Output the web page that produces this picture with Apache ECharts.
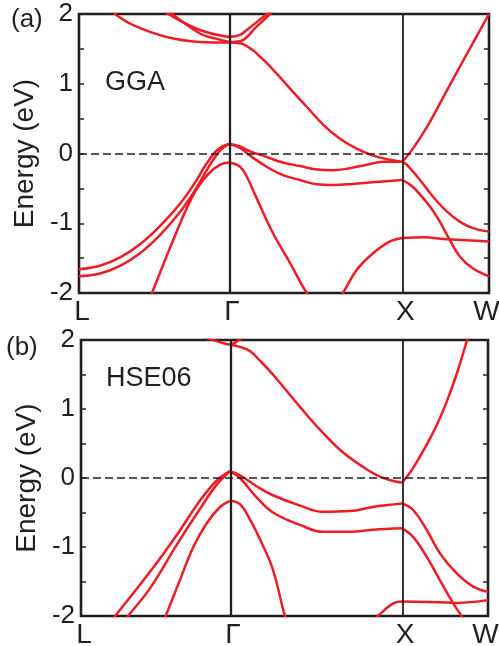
<!DOCTYPE html>
<html><head><meta charset="utf-8">
<script src="https://cdn.jsdelivr.net/npm/echarts@6/dist/echarts.min.js"></script>
<style>html,body{margin:0;padding:0;background:#fff}#c{width:499px;height:646px}</style>
</head><body><div id="c"></div>
<script>
// k-path (units of 2π/a): L, Γ, X, W
const kPoints = [0, 0.866, 1.866, 2.366];
const kLabels = ['L', 'Γ', 'X', 'W'];
const yLabelValues = [-2, -1, 0, 1, 2];
const yTickValues = [-2, -1.5, -1, -0.5, 0, 0.5, 1, 1.5, 2];

// (a) GGA bands: [k, E(eV)]
const ggaV1 = [[0,-1.66],[0.121,-1.61],[0.237,-1.49],[0.352,-1.30],[0.467,-1.04],[0.583,-0.72],[0.669,-0.42],[0.727,-0.18],[0.785,0.02],[0.825,0.10],[0.866,0.135],[0.929,0.10],[0.987,0.03],[1.083,-0.05],[1.177,-0.13],[1.275,-0.18],[1.372,-0.23],[1.466,-0.24],[1.564,-0.21],[1.660,-0.16],[1.754,-0.12],[1.866,-0.12],[1.891,-0.16],[1.968,-0.38],[2.043,-0.62],[2.122,-0.83],[2.199,-0.98],[2.274,-1.07],[2.366,-1.12]];
const ggaV2 = [[0,-1.76],[0.121,-1.72],[0.237,-1.61],[0.352,-1.43],[0.467,-1.17],[0.583,-0.84],[0.669,-0.53],[0.727,-0.28],[0.785,-0.05],[0.825,0.07],[0.866,0.135],[0.929,0.08],[0.987,-0.03],[1.083,-0.19],[1.177,-0.31],[1.275,-0.38],[1.372,-0.44],[1.466,-0.45],[1.564,-0.44],[1.660,-0.42],[1.754,-0.40],[1.866,-0.38],[1.927,-0.48],[2.025,-0.76],[2.083,-0.98],[2.122,-1.16],[2.199,-1.48],[2.274,-1.65],[2.366,-1.76]];
const ggaV3 = [[0.395,-2.15],[0.421,-2.0],[0.542,-1.25],[0.658,-0.60],[0.744,-0.30],[0.814,-0.16],[0.866,-0.13],[0.929,-0.19],[0.968,-0.33],[1.025,-0.64],[1.119,-1.14],[1.218,-1.57],[1.304,-1.96],[1.333,-2.05]];
const ggaV4 = [[1.49,-2.1],[1.523,-2.0],[1.602,-1.67],[1.697,-1.43],[1.795,-1.26],[1.866,-1.21],[1.985,-1.20],[2.124,-1.23],[2.366,-1.26]];
const ggaC1 = [[0.185,2.08],[0.208,2.0],[0.313,1.84],[0.506,1.67],[0.698,1.60],[0.866,1.59],[0.929,1.58],[1.004,1.48],[1.044,1.39],[1.121,1.20],[1.218,0.93],[1.314,0.67],[1.410,0.41],[1.506,0.21],[1.602,0.07],[1.698,-0.03],[1.794,-0.09],[1.866,-0.12],[1.927,0.07],[2.008,0.38],[2.124,0.91],[2.239,1.43],[2.366,2.0]];
const ggaC2 = [[0.49,2.05],[0.514,2.0],[0.698,1.77],[0.866,1.67],[0.929,1.70],[0.968,1.77],[1.083,2.0],[1.102,2.04]];
const ggaC3 = [[0.515,2.05],[0.537,2.0],[0.698,1.72],[0.785,1.65],[0.866,1.60],[0.929,1.61],[1.025,1.82],[1.102,2.0],[1.12,2.05]];

// (b) HSE06 bands
const hseV1 = [[0.157,-2.1],[0.198,-2.0],[0.401,-1.36],[0.556,-0.83],[0.691,-0.33],[0.788,-0.04],[0.866,0.10],[0.924,0.04],[1.021,-0.12],[1.116,-0.25],[1.273,-0.40],[1.406,-0.49],[1.563,-0.48],[1.697,-0.42],[1.866,-0.37],[1.929,-0.46],[2.009,-0.75],[2.086,-1.09],[2.183,-1.38],[2.278,-1.57],[2.366,-1.65]];
const hseV2 = [[0.238,-2.1],[0.273,-2.0],[0.401,-1.60],[0.556,-0.97],[0.691,-0.45],[0.788,-0.10],[0.866,0.10],[0.924,0.0],[1.021,-0.28],[1.116,-0.50],[1.273,-0.68],[1.406,-0.78],[1.563,-0.78],[1.697,-0.75],[1.866,-0.73],[1.929,-0.85],[2.009,-1.14],[2.086,-1.48],[2.162,-1.81],[2.212,-2.0],[2.237,-2.1]];
const hseV3 = [[0.465,-2.15],[0.492,-2.0],[0.575,-1.48],[0.653,-1.0],[0.730,-0.66],[0.808,-0.42],[0.866,-0.33],[0.924,-0.38],[0.982,-0.60],[1.052,-0.95],[1.116,-1.33],[1.185,-2.0],[1.203,-2.1]];
const hseV4 = [[1.691,-2.1],[1.726,-2.0],[1.813,-1.82],[1.866,-1.79],[2.086,-1.80],[2.183,-1.81],[2.366,-1.77]];
const hseC1 = [[0.866,1.93],[0.924,1.90],[0.982,1.84],[1.040,1.70],[1.098,1.55],[1.156,1.38],[1.273,1.03],[1.389,0.70],[1.505,0.41],[1.622,0.19],[1.738,0.02],[1.866,-0.07],[1.929,0.14],[2.009,0.48],[2.067,0.76],[2.125,1.10],[2.183,1.50],[2.241,1.97],[2.262,2.15]];
const hseC2 = [[0.70,2.05],[0.767,2.0],[0.819,1.96],[0.866,1.93],[0.901,1.97],[0.936,2.03]];

const ggaBands = [ggaV1, ggaV2, ggaV3, ggaV4, ggaC1, ggaC2, ggaC3];
const hseBands = [hseV1, hseV2, hseV3, hseV4, hseC1, hseC2];

const FONT = "'Liberation Sans', Arial, Helvetica, sans-serif";
const INK = '#231f20';
const RED = '#ee1c25';

function splitAtSymmetry(pts) {
  const segs = [];
  let cur = [];
  pts.forEach((p, i) => {
    cur.push(p);
    const isSym = kPoints.slice(1, -1).some(k => Math.abs(k - p[0]) < 1e-6);
    if (isSym && i > 0 && i < pts.length - 1) { segs.push(cur); cur = [p]; }
  });
  if (cur.length > 1) segs.push(cur);
  return segs;
}

function bandSeries(bands, xi, yi) {
  const out = [];
  bands.forEach(b => splitAtSymmetry(b).forEach(seg => out.push({
    type: 'line', xAxisIndex: xi, yAxisIndex: yi, data: seg, smooth: 0.4,
    showSymbol: false, symbol: 'none', silent: true, z: 3, clip: true,
    lineStyle: { color: RED, width: 2.5 }
  })));
  return out;
}

function refSeries(xi, yi) {
  return {
    type: 'line', xAxisIndex: xi, yAxisIndex: yi, data: [], z: 2, silent: true,
    markLine: {
      symbol: 'none', silent: true, animation: false, label: { show: false },
      data: [
        { xAxis: kPoints[1], lineStyle: { type: 'solid', width: 2.3, color: INK } },
        { xAxis: kPoints[2], lineStyle: { type: 'solid', width: 1.8, color: INK } },
        { yAxis: 0, lineStyle: { type: [8, 4], width: 1.7, color: INK } }
      ]
    }
  };
}

const labelRich = {
  s: { fontSize: 28, fontFamily: FONT, color: INK, padding: [0, 0, 0, 6] },
  w: { fontSize: 28, fontFamily: FONT, color: INK, padding: [0, 5, 0, 0] }
};

function xAxisDef(gi) {
  return {
    gridIndex: gi, type: 'value', min: kPoints[0], max: kPoints[kPoints.length - 1],
    axisLine: { show: false }, axisTick: { show: false }, splitLine: { show: false },
    axisLabel: {
      customValues: kPoints,
      formatter: v => {
        const i = kPoints.findIndex(k => Math.abs(k - v) < 1e-6);
        return i === kPoints.length - 1 ? '{w|' + kLabels[i] + '}' : '{s|' + kLabels[i] + '}';
      },
      rich: labelRich,
      fontSize: 28, fontFamily: FONT, color: INK, margin: 5, hideOverlap: false
    }
  };
}

function yAxesDef(gi) {
  return [{
    gridIndex: gi, type: 'value', min: -2, max: 2, position: 'left',
    name: 'Energy (eV)', nameLocation: 'middle', nameGap: 40,
    nameTextStyle: { fontSize: 28, fontFamily: FONT, color: INK },
    axisLine: { show: false }, splitLine: { show: false },
    axisTick: { show: true, inside: true, length: 5, customValues: yTickValues, lineStyle: { color: INK, width: 1.5 } },
    axisLabel: { customValues: yLabelValues, fontSize: 26, fontFamily: FONT, color: INK, margin: 6 }
  }, {
    gridIndex: gi, type: 'value', min: -2, max: 2, position: 'right',
    axisLine: { show: false }, splitLine: { show: false }, axisLabel: { show: false },
    axisTick: { show: true, inside: true, length: 5, customValues: yTickValues, lineStyle: { color: INK, width: 1.5 } }
  }];
}

const chart = echarts.init(document.getElementById('c'), null, { renderer: 'canvas' });
const tStyle = { fontSize: 26, fontWeight: 'normal', fontFamily: FONT, color: INK };
chart.setOption({
  animation: false,
  backgroundColor: '#fff',
  title: [
    { text: '(a)', left: 11, top: 7, padding: 0, textStyle: tStyle },
    { text: 'GGA', left: 105, top: 69, padding: 0, textStyle: Object.assign({}, tStyle, { fontSize: 27 }) },
    { text: '(b)', left: 6, top: 335, padding: 0, textStyle: tStyle },
    { text: 'HSE06', left: 106, top: 365, padding: 0, textStyle: Object.assign({}, tStyle, { fontSize: 27 }) }
  ],
  grid: [
    { left: 79, top: 14, width: 410, height: 279, show: true, borderColor: INK, borderWidth: 2.6, backgroundColor: 'transparent', outerBoundsMode: 'none', containLabel: false },
    { left: 81, top: 340, width: 407, height: 276, show: true, borderColor: INK, borderWidth: 2.6, backgroundColor: 'transparent', outerBoundsMode: 'none', containLabel: false }
  ],
  xAxis: [xAxisDef(0), xAxisDef(1)],
  yAxis: [...yAxesDef(0), ...yAxesDef(1)],
  series: [
    refSeries(0, 0), refSeries(1, 2),
    ...bandSeries(ggaBands, 0, 0),
    ...bandSeries(hseBands, 1, 2)
  ]
});
</script>
</body></html>
